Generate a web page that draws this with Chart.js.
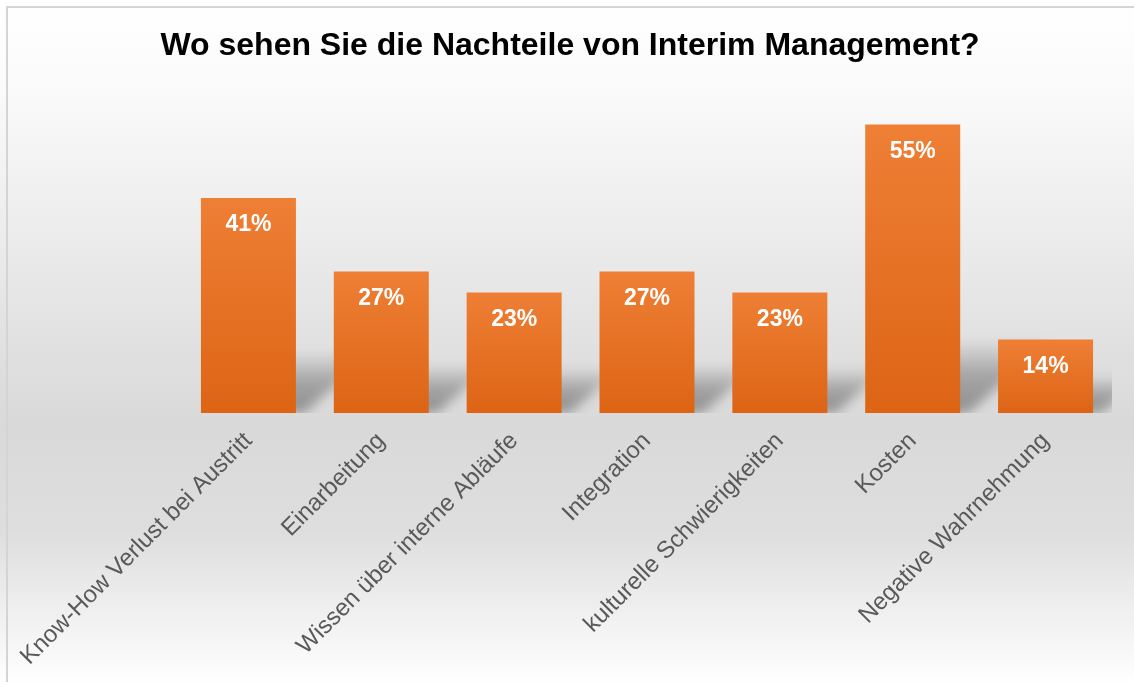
<!DOCTYPE html>
<html>
<head>
<meta charset="utf-8">
<style>
  html, body { margin: 0; padding: 0; background: #ffffff; }
  #wrap { width: 1134px; height: 682px; position: relative; }
</style>
<script src="https://cdn.jsdelivr.net/npm/chart.js@4.4.1/dist/chart.umd.min.js"></script>
</head>
<body>
<div id="wrap"><canvas id="chart" width="1134" height="682"></canvas></div>
<script>
// Survey: perceived drawbacks of interim management (share of answers, %)
const chartTitle = 'Wo sehen Sie die Nachteile von Interim Management?';
const categories = [
  'Know-How Verlust bei Austritt',
  'Einarbeitung',
  'Wissen über interne Abläufe',
  'Integration',
  'kulturelle Schwierigkeiten',
  'Kosten',
  'Negative Wahrnehmung'
];
const shares = [41, 27, 23, 27, 23, 55, 14];
const axisMin = 0;
const axisMax = 60;

const FONT = "'Liberation Sans', Arial, sans-serif";

// Light frame + soft vertical grey wash behind the whole chart
const backdrop = {
  id: 'backdrop',
  beforeDraw(chart) {
    const { ctx, width, height } = chart;
    ctx.save();
    const g = ctx.createLinearGradient(0, 0, 0, height);
    g.addColorStop(0.00, '#ffffff');
    g.addColorStop(0.12, '#fbfbfb');
    g.addColorStop(0.40, '#e8e8e8');
    g.addColorStop(0.62, '#d9d9d9');
    g.addColorStop(0.78, '#dedede');
    g.addColorStop(0.90, '#f0f0f0');
    g.addColorStop(1.00, '#fefefe');
    ctx.fillStyle = g;
    ctx.fillRect(0, 0, width, height);
    ctx.strokeStyle = '#d4d4d4';
    ctx.lineWidth = 2;
    ctx.beginPath();
    ctx.moveTo(7, height);
    ctx.lineTo(7, 7);
    ctx.lineTo(width, 7);
    ctx.stroke();
    ctx.restore();
  }
};

// Perspective shadow cast up and to the right of every bar, kept inside the plot
const barShadows = {
  id: 'barShadows',
  beforeDatasetsDraw(chart) {
    const { ctx, chartArea } = chart;
    const meta = chart.getDatasetMeta(0);
    ctx.save();
    ctx.beginPath();
    ctx.rect(chartArea.left, chartArea.top, chartArea.right - chartArea.left, chartArea.bottom - chartArea.top);
    ctx.clip();
    ctx.filter = 'blur(6px)';
    meta.data.forEach(bar => {
      const { x, y, base, width } = bar.getProps(['x', 'y', 'base', 'width'], true);
      const h = base - y;
      const rise = 25 + 0.17 * h;
      const skew = 1.15 * rise;
      const left = x - width / 2 + 8, right = x + width / 2 + 8;
      const g = ctx.createLinearGradient(0, base, 0, base - rise);
      g.addColorStop(0, 'rgba(0,0,0,0.34)');
      g.addColorStop(0.5, 'rgba(0,0,0,0.26)');
      g.addColorStop(1, 'rgba(0,0,0,0)');
      ctx.fillStyle = g;
      ctx.beginPath();
      ctx.moveTo(left, base);
      ctx.lineTo(right, base);
      ctx.lineTo(right + skew, base - rise);
      ctx.lineTo(left + skew, base - rise);
      ctx.closePath();
      ctx.fill();
    });
    ctx.restore();
  }
};

// White percentage labels inside the top of each bar
const valueLabels = {
  id: 'valueLabels',
  afterDatasetsDraw(chart) {
    const { ctx } = chart;
    const meta = chart.getDatasetMeta(0);
    ctx.save();
    ctx.fillStyle = '#ffffff';
    ctx.font = 'bold 23px ' + FONT;
    ctx.textAlign = 'center';
    ctx.textBaseline = 'middle';
    meta.data.forEach((bar, i) => {
      const { x, y } = bar.getProps(['x', 'y'], true);
      ctx.fillText(shares[i] + '%', x, y + 27);
    });
    ctx.restore();
  }
};

function barFill(c) {
  const chart = c.chart;
  const yScale = chart.scales.y;
  if (!yScale || c.raw === undefined) return '#e6722a';
  const top = yScale.getPixelForValue(c.raw);
  const bottom = yScale.getPixelForValue(axisMin);
  if (!isFinite(top) || !isFinite(bottom) || top === bottom) return '#e6722a';
  const g = chart.ctx.createLinearGradient(0, top, 0, bottom);
  g.addColorStop(0, '#ee7f35');
  g.addColorStop(1, '#dd6415');
  return g;
}

new Chart(document.getElementById('chart'), {
  type: 'bar',
  data: {
    labels: categories,
    datasets: [{
      data: shares,
      backgroundColor: barFill,
      borderWidth: 0,
      categoryPercentage: 1,
      barPercentage: 0.715
    }]
  },
  plugins: [backdrop, barShadows, valueLabels],
  options: {
    responsive: false,
    animation: false,
    events: [],
    layout: { padding: { left: 28, right: 22, top: 0, bottom: 0 } },
    plugins: {
      legend: { display: false },
      tooltip: { enabled: false },
      title: {
        display: true,
        text: chartTitle,
        color: '#000000',
        font: { family: FONT, size: 32, weight: 'bold' },
        padding: { top: 27, bottom: 33 }
      }
    },
    scales: {
      x: {
        grid: { display: false, drawTicks: false },
        border: { display: false },
        ticks: {
          color: '#595959',
          font: { family: FONT, size: 24 },
          minRotation: 45,
          maxRotation: 45,
          autoSkip: false,
          padding: 14
        },
        afterFit(scale) {
          scale.paddingLeft = 182;
          scale.paddingRight = 0;
          scale.height = 269;
        }
      },
      y: {
        display: false,
        min: axisMin,
        max: axisMax
      }
    }
  }
});
</script>
</body>
</html>
